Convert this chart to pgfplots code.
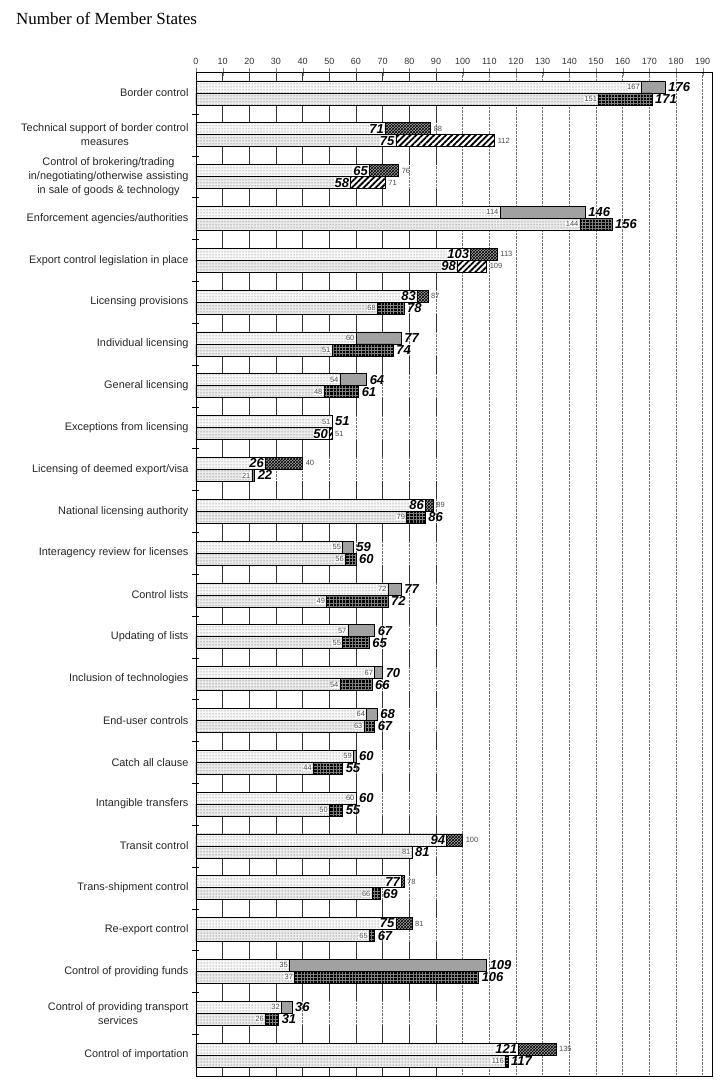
\documentclass[border=0pt]{standalone}
\usepackage{fontspec}
\setmainfont{Liberation Sans}
\newfontfamily\titlefont{Liberation Serif}
\usepackage{pgfplots}
\pgfplotsset{compat=1.18}
\usetikzlibrary{patterns,patterns.meta}

\newcommand\smallf{\fontsize{7.5}{8}\selectfont}
\newcommand\boldf{\fontsize{13}{14}\selectfont\bfseries\itshape}

\pgfplotsset{
  upper/.style={y filter/.expression={y+0.1434}},
  lower/.style={y filter/.expression={y-0.1434}},
  barbase/.style={xbar, bar width=12pt, bar shift=0pt, draw=black, line width=0.6pt},
  baseU/.style={barbase, fill=black!3, postaction={pattern=dots, pattern color=black!60}},
  baseL/.style={barbase, fill=black!8, postaction={pattern=dots, pattern color=black!70}},
  segGray/.style={barbase, fill=black!37},
  segCheck/.style={barbase, fill=black!38, postaction={pattern=crosshatch, pattern color=black}},
  segGrid/.style={barbase, fill=black, postaction={pattern={Lines[angle=0,distance=3.2pt,line width=0.3pt]}, pattern color=black!50}, postaction={pattern={Lines[angle=90,distance=3.2pt,line width=0.3pt]}, pattern color=black!50}},
  segDiag/.style={barbase, fill=white, postaction={pattern={Lines[angle=45,distance=4.2pt,line width=1.8pt]}, pattern color=black}},
  lblin/.style={draw=none, mark=none, point meta=x, nodes near coords, every node near coord/.append style={anchor=east, xshift=-1pt, fill=white, inner sep=0.4pt}},
  lblout/.style={draw=none, mark=none, point meta=x, nodes near coords, every node near coord/.append style={anchor=west, xshift=2.5pt, inner sep=0.4pt}},
  sm/.style={every node near coord/.append style={font=\smallf, text=black!70}},
  bd/.style={every node near coord/.append style={font=\boldf, text=black}},
}

\begin{document}
\begin{tikzpicture}
\begin{axis}[
  scale only axis, width=516pt, height=1004pt,
  xmin=0, xmax=193.5, ymin=0.5, ymax=24.5,
  clip=false,
  axis line style={black, line width=0.6pt},
  /pgf/number format/assume math mode=true,
  xtick={0,10,...,190},
  xtick pos=right, xticklabel pos=right,
  tick align=center, major tick length=8pt,
  xmajorgrids, grid style={densely dotted, black!55, line width=0.5pt},
  xticklabel style={font=\fontsize{9}{10}\selectfont, text=black!80},
  ytick={1,...,24}, ytick pos=left,
  major y tick style={draw=none},
  minor ytick={1.5,2.5,...,23.5}, minor tick length=7pt,
  minor y tick style={black},
  yticklabel style={align=center, font=\fontsize{10.9}{13.8}\selectfont, text=black!85},
  yticklabels={{Control of importation},{Control of providing transport\\services},{Control of providing funds},{Re-export control},{Trans-shipment control},{Transit control},{Intangible transfers},{Catch all clause},{End-user controls},{Inclusion of technologies},{Updating of lists},{Control lists},{Interagency review for licenses},{National licensing authority},{Licensing of deemed export/visa},{Exceptions from licensing},{General licensing},{Individual licensing},{Licensing provisions},{Export control legislation in place},{Enforcement agencies/authorities},{Control of brokering/trading\\in/negotiating/otherwise assisting\\in sale of goods \& technology},{Technical support of border control\\measures},{Border control}},
]
\coordinate (NW) at (rel axis cs:0,1);
\pgfplotsinvokeforeach{10,20,30,40,50,60,70,80,90}{
  \draw[black!80, line width=0.6pt, dash pattern=on 8.9167pt off 24pt on 8.9167pt off 0pt] (axis cs:#1,24.5) -- (axis cs:#1,0.5);
}
% upper bars: top segments (gray / checker)
\addplot[segGray, upper] coordinates {(176,24) (146,21) (77,18) (64,17) (51,16) (59,13) (77,12) (67,11) (70,10) (68,9) (60,8) (60,7) (109,3) (36,2)};
\addplot[segCheck, upper] coordinates {(88,23) (76,22) (113,20) (87,19) (40,15) (89,14) (100,6) (78,5) (81,4) (135,1)};
% lower bars: top segments (grid / diagonal)
\addplot[segGrid, lower] coordinates {(171,24) (156,21) (78,19) (74,18) (61,17) (22,15) (86,14) (60,13) (72,12) (65,11) (66,10) (67,9) (55,8) (55,7) (81,6) (69,5) (67,4) (106,3) (31,2) (117,1)};
\addplot[segDiag, lower] coordinates {(112,23) (71,22) (109,20) (51,16)};
% base segments
\addplot[baseU, upper] coordinates {(167,24) (71,23) (65,22) (114,21) (103,20) (83,19) (60,18) (54,17) (51,16) (26,15) (86,14) (55,13) (72,12) (57,11) (67,10) (64,9) (59,8) (60,7) (94,6) (77,5) (75,4) (35,3) (32,2) (121,1)};
\addplot[baseL, lower] coordinates {(151,24) (75,23) (58,22) (144,21) (98,20) (68,19) (51,18) (48,17) (50,16) (21,15) (79,14) (56,13) (49,12) (55,11) (54,10) (63,9) (44,8) (50,7) (81,6) (66,5) (65,4) (37,3) (26,2) (116,1)};
% labels, upper bars
\addplot[lblin, sm, upper] coordinates {(167,24) (114,21) (60,18) (54,17) (51,16) (55,13) (72,12) (57,11) (67,10) (64,9) (59,8) (60,7) (35,3) (32,2)};
\addplot[lblout, bd, upper] coordinates {(176,24) (146,21) (77,18) (64,17) (51,16) (59,13) (77,12) (67,11) (70,10) (68,9) (60,8) (60,7) (109,3) (36,2)};
\addplot[lblin, bd, upper] coordinates {(71,23) (65,22) (103,20) (83,19) (26,15) (86,14) (94,6) (77,5) (75,4) (121,1)};
\addplot[lblout, sm, upper] coordinates {(88,23) (76,22) (113,20) (87,19) (40,15) (89,14) (100,6) (78,5) (81,4) (135,1)};
% labels, lower bars
\addplot[lblin, sm, lower] coordinates {(151,24) (144,21) (68,19) (51,18) (48,17) (21,15) (79,14) (56,13) (49,12) (55,11) (54,10) (63,9) (44,8) (50,7) (81,6) (66,5) (65,4) (37,3) (26,2) (116,1)};
\addplot[lblout, bd, lower] coordinates {(171,24) (156,21) (78,19) (74,18) (61,17) (22,15) (86,14) (60,13) (72,12) (65,11) (66,10) (67,9) (55,8) (55,7) (81,6) (69,5) (67,4) (106,3) (31,2) (117,1)};
\addplot[lblin, bd, lower] coordinates {(75,23) (58,22) (98,20) (50,16)};
\addplot[lblout, sm, lower] coordinates {(112,23) (71,22) (109,20) (51,16)};
\end{axis}
\node[anchor=base west, inner sep=0pt, font=\titlefont\fontsize{17}{20}\selectfont] at ([shift={(-180pt,47pt)}]NW) {Number of Member States};
\pgfresetboundingbox
\path ([shift={(-196pt,72pt)}]NW) rectangle ++(726pt,-1086pt);
\end{tikzpicture}
\end{document}
